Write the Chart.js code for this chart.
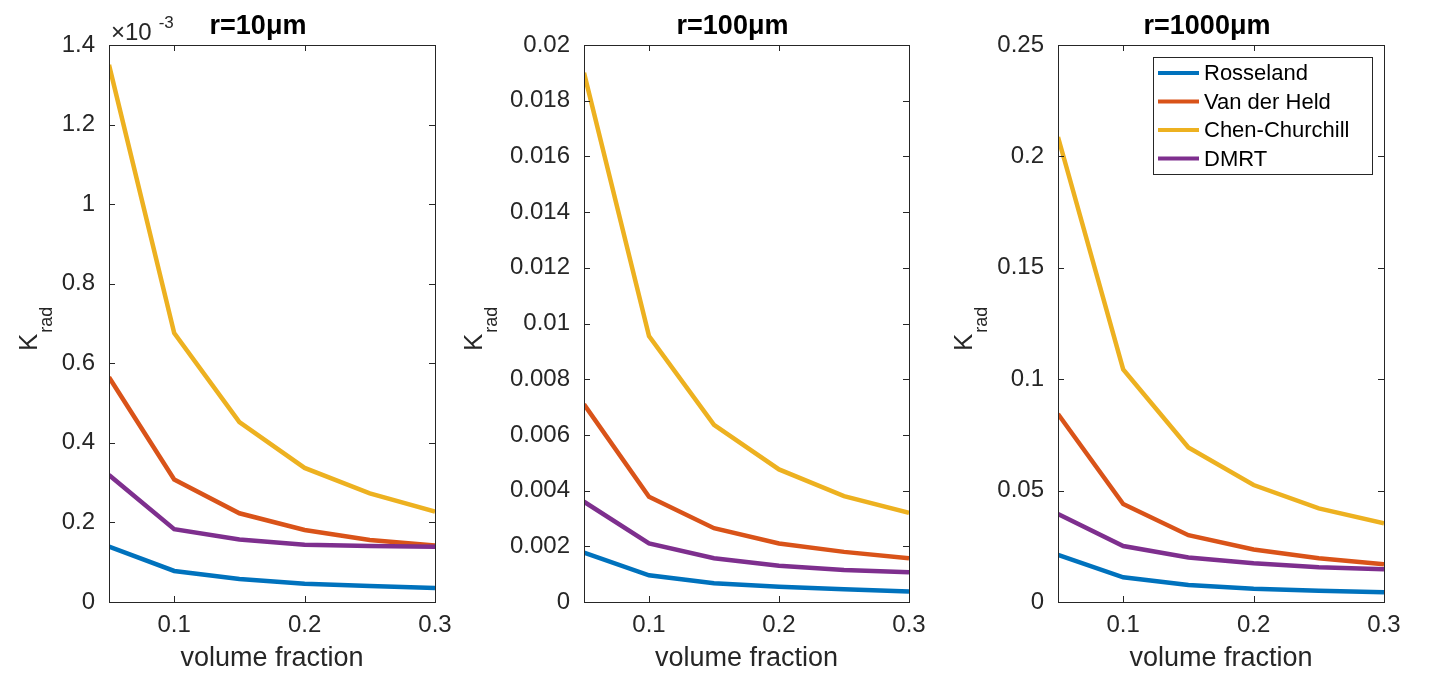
<!DOCTYPE html>
<html>
<head>
<meta charset="utf-8">
<script src="https://cdn.jsdelivr.net/npm/chart.js@4.4.1/dist/chart.umd.min.js"></script>
<style>
  html, body { margin: 0; padding: 0; background: #fff; }
  #wrap { position: relative; width: 1433px; height: 677px; overflow: hidden; }
  #wrap canvas { position: absolute; top: 0; }
</style>
</head>
<body>
<div id="wrap">
  <canvas id="c1" style="left:0px"></canvas>
  <canvas id="c2" style="left:440px"></canvas>
  <canvas id="c3" style="left:940px"></canvas>
</div>
<script>
// volume fraction (x) for every panel
const volFrac = [0.05, 0.1, 0.15, 0.2, 0.25, 0.3];
const xTicks = [0.1, 0.2, 0.3];
const xTickLabels = ['0.1', '0.2', '0.3'];

const seriesNames = ['Rosseland', 'Van der Held', 'Chen-Churchill', 'DMRT'];
const seriesColors = ['#0072BD', '#D95319', '#EDB120', '#7E2F8E'];

// r = 10 um
const ross10 = [0.139e-3, 0.078e-3, 0.058e-3, 0.046e-3, 0.040e-3, 0.035e-3];
const vdh10  = [0.565e-3, 0.308e-3, 0.223e-3, 0.181e-3, 0.156e-3, 0.142e-3];
const cc10   = [1.35e-3, 0.676e-3, 0.452e-3, 0.337e-3, 0.273e-3, 0.227e-3];
const dmrt10 = [0.319e-3, 0.183e-3, 0.157e-3, 0.144e-3, 0.141e-3, 0.139e-3];
const yTicks10 = [0, 0.2e-3, 0.4e-3, 0.6e-3, 0.8e-3, 1.0e-3, 1.2e-3, 1.4e-3];
const yLabels10 = ['0', '0.2', '0.4', '0.6', '0.8', '1', '1.2', '1.4'];

// r = 100 um
const ross100 = [0.00177, 0.00096, 0.00067, 0.00055, 0.00046, 0.00038];
const vdh100  = [0.0071, 0.00378, 0.00265, 0.0021, 0.0018, 0.00157];
const cc100   = [0.019, 0.00955, 0.00636, 0.00476, 0.0038, 0.0032];
const dmrt100 = [0.0036, 0.0021, 0.00157, 0.0013, 0.00115, 0.00107];
const yTicks100 = [0, 0.002, 0.004, 0.006, 0.008, 0.01, 0.012, 0.014, 0.016, 0.018, 0.02];
const yLabels100 = ['0', '0.002', '0.004', '0.006', '0.008', '0.01', '0.012', '0.014', '0.016', '0.018', '0.02'];

// r = 1000 um
const ross1000 = [0.0211, 0.0111, 0.0076, 0.0060, 0.0051, 0.0044];
const vdh1000  = [0.0844, 0.044, 0.030, 0.0236, 0.0196, 0.0169];
const cc1000   = [0.2087, 0.1044, 0.0694, 0.0525, 0.042, 0.0353];
const dmrt1000 = [0.0395, 0.0251, 0.020, 0.0174, 0.0156, 0.0147];
const yTicks1000 = [0, 0.05, 0.1, 0.15, 0.2, 0.25];
const yLabels1000 = ['0', '0.05', '0.1', '0.15', '0.2', '0.25'];

const FONT = '"Liberation Sans", Arial, Helvetica, sans-serif';
const AX = '#262626';

// box, inward ticks, title, y label, exponent and legend (matlab look)
const matlabFrame = {
  id: 'matlabFrame',
  afterDraw(chart, args, opts) {
    const ctx = chart.ctx;
    const a = chart.chartArea;
    const xs = chart.scales.x, ys = chart.scales.y;
    ctx.save();
    ctx.strokeStyle = AX;
    ctx.lineWidth = 1;
    ctx.strokeRect(Math.round(a.left) + 0.5, Math.round(a.top) + 0.5,
                   Math.round(a.right - a.left), Math.round(a.bottom - a.top));
    const tl = 6;
    ctx.beginPath();
    xs.ticks.forEach(t => {
      const px = Math.round(xs.getPixelForValue(t.value)) + 0.5;
      ctx.moveTo(px, a.bottom); ctx.lineTo(px, a.bottom - tl);
      ctx.moveTo(px, a.top); ctx.lineTo(px, a.top + tl);
    });
    ys.ticks.forEach(t => {
      const py = Math.round(ys.getPixelForValue(t.value)) + 0.5;
      ctx.moveTo(a.left, py); ctx.lineTo(a.left + tl, py);
      ctx.moveTo(a.right, py); ctx.lineTo(a.right - tl, py);
    });
    ctx.stroke();

    // title
    ctx.fillStyle = '#000';
    ctx.font = 'bold 27px ' + FONT;
    ctx.textAlign = 'center';
    ctx.textBaseline = 'alphabetic';
    ctx.fillText(opts.title, (a.left + a.right) / 2 - 14, 34);

    // exponent
    if (opts.exponent) {
      ctx.fillStyle = AX;
      ctx.textAlign = 'left';
      ctx.font = '24px ' + FONT;
      ctx.fillText('\u00d710', a.left + 2, 40);
      const w = ctx.measureText('\u00d710').width;
      ctx.font = '17px ' + FONT;
      ctx.fillText(opts.exponent, a.left + 2 + w + 7, 28);
    }

    // y label K_rad
    ctx.save();
    ctx.translate(opts.yLabelX - chart.canvas.offsetLeft, 351);
    ctx.rotate(-Math.PI / 2);
    ctx.fillStyle = AX;
    ctx.textAlign = 'left';
    ctx.font = '26px ' + FONT;
    ctx.fillText('K', 0, 0);
    const kw = ctx.measureText('K').width;
    ctx.font = '18px ' + FONT;
    ctx.fillText('rad', kw + 1, 15);
    ctx.restore();

    // legend
    if (opts.legend) {
      const lx = 1153 - chart.canvas.offsetLeft, ly = 57;
      ctx.fillStyle = '#fff';
      ctx.fillRect(lx, ly, 219, 117);
      ctx.strokeStyle = AX;
      ctx.lineWidth = 1;
      ctx.strokeRect(lx + 0.5, ly + 0.5, 219, 117);
      ctx.font = '22px ' + FONT;
      ctx.textAlign = 'left';
      ctx.textBaseline = 'middle';
      chart.data.datasets.forEach((ds, i) => {
        const yy = 73 + i * 28.5;
        ctx.strokeStyle = ds.borderColor;
        ctx.lineWidth = 4;
        ctx.beginPath();
        ctx.moveTo(lx + 5, yy); ctx.lineTo(lx + 46, yy);
        ctx.stroke();
        ctx.fillStyle = '#000';
        ctx.fillText(ds.label, lx + 51, yy + 1);
      });
    }
    ctx.restore();
  }
};

function makeChart(id, width, yAxisWidth, padRight, series, yTicks, yLabels, frameOpts) {
  const el = document.getElementById(id);
  el.width = width;
  el.height = 677;
  return new Chart(el, {
    type: 'line',
    data: {
      datasets: series.map((vals, i) => ({
        label: seriesNames[i],
        data: volFrac.map((x, j) => ({ x: x, y: vals[j] })),
        borderColor: seriesColors[i],
        backgroundColor: seriesColors[i],
        borderWidth: 4.5,
        pointRadius: 0,
        tension: 0,
        order: series.length - i
      }))
    },
    options: {
      responsive: false,
      animation: false,
      devicePixelRatio: 1,
      layout: { padding: { top: 45, right: padRight, bottom: 0, left: 0 } },
      scales: {
        x: {
          type: 'linear',
          min: 0.05,
          max: 0.3,
          afterBuildTicks: (s) => { s.ticks = xTicks.map(v => ({ value: v })); },
          afterFit: (s) => { s.height = 75; },
          grid: { display: false, drawTicks: false },
          border: { display: false },
          ticks: {
            padding: 9,
            color: AX,
            font: { family: FONT, size: 24 },
            callback: (v, i) => xTickLabels[i]
          },
          title: {
            display: true,
            text: 'volume fraction',
            color: AX,
            font: { family: FONT, size: 27 },
            padding: { top: 0, bottom: 2 }
          }
        },
        y: {
          type: 'linear',
          min: yTicks[0],
          max: yTicks[yTicks.length - 1],
          afterBuildTicks: (s) => { s.ticks = yTicks.map(v => ({ value: v })); },
          afterFit: (s) => { s.width = yAxisWidth; },
          grid: { display: false, drawTicks: false },
          border: { display: false },
          ticks: {
            padding: 14,
            color: AX,
            font: { family: FONT, size: 24 },
            callback: (v, i) => yLabels[i]
          }
        }
      },
      plugins: {
        legend: { display: false },
        tooltip: { enabled: false },
        matlabFrame: frameOpts
      }
    },
    plugins: [matlabFrame]
  });
}

makeChart('c1', 470, 109, 35, [ross10, vdh10, cc10, dmrt10], yTicks10, yLabels10,
  { title: 'r=10\u03bcm', exponent: '-3', yLabelX: 37 });
makeChart('c2', 500, 144, 31, [ross100, vdh100, cc100, dmrt100], yTicks100, yLabels100,
  { title: 'r=100\u03bcm', yLabelX: 482 });
makeChart('c3', 493, 118, 49, [ross1000, vdh1000, cc1000, dmrt1000], yTicks1000, yLabels1000,
  { title: 'r=1000\u03bcm', yLabelX: 972, legend: true });
</script>
</body>
</html>
